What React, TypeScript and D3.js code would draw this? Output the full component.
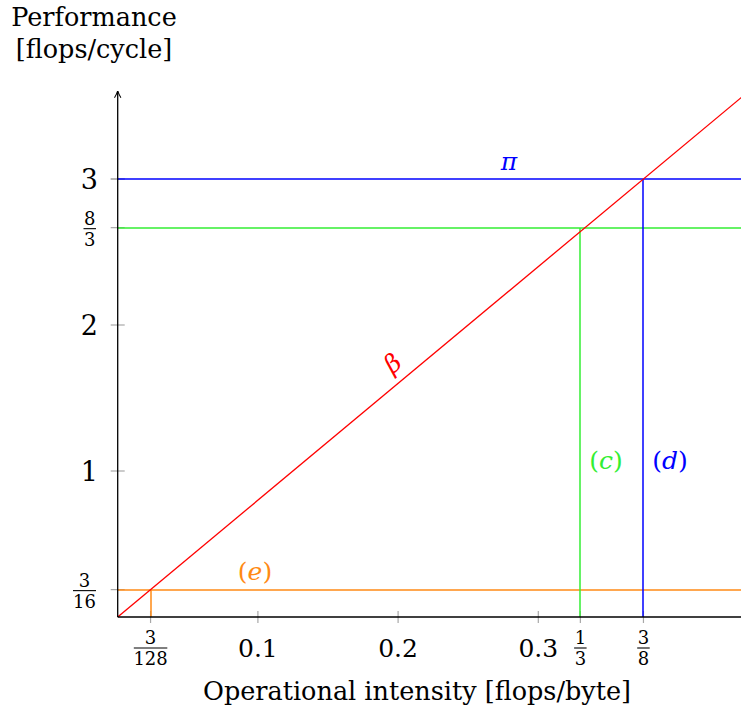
import { useEffect, useRef } from 'react';
import * as d3 from 'd3';

// roofline values
const xTickValues = [0.1, 0.2, 0.3];
const yTickValues = [1, 2, 3];
const ceilingNames = ['π', '(c)', '(e)'];
const ceilingValues = [3, 8 / 3, 3 / 16];
const ridgeNames = ['(d)', '(c)', '(e)'];
const ridgeValues = [3 / 8, 0.33, 3 / 128];
const ridgeLabels = [['3', '8'], ['1', '3'], ['3', '128']];
const ceilingLabels = [null, ['8', '3'], ['3', '16']];
const bandwidthSlope = 8;
const colors = ['#0000ff', '#33ee33', '#ff8a14'];

const FONT = "'DejaVu Serif', serif";

const App = () => {
  const svgRef = useRef<SVGSVGElement>(null);

  useEffect(() => {
    const svg = d3.select(svgRef.current);
    svg.selectAll('*').remove();
    const width = 741;
    const height = 710;

    const x = d3.scaleLinear().domain([0, 0.45]).range([117.7, 117.7 + 0.45 * 1402]);
    const y = d3.scaleLinear().domain([0, 3.6]).range([617, 617 - 3.6 * 146]);

    const defs = svg.append('defs');
    defs
      .append('marker')
      .attr('id', 'arr')
      .attr('viewBox', '0 0 10 10')
      .attr('refX', 9)
      .attr('refY', 5)
      .attr('markerWidth', 8)
      .attr('markerHeight', 8)
      .attr('markerUnits', 'userSpaceOnUse')
      .attr('orient', 'auto')
      .append('path')
      .attr('d', 'M1,1 Q6,4 10,5 Q6,6 1,9')
      .attr('fill', 'none')
      .attr('stroke', '#000')
      .attr('stroke-width', 1.3);

    // ticks (gray, crossing the axes)
    const xt = [...xTickValues, ...ridgeValues];
    svg
      .append('g')
      .selectAll('line')
      .data(xt)
      .join('line')
      .attr('x1', (d) => x(d))
      .attr('x2', (d) => x(d))
      .attr('y1', y(0) - 6)
      .attr('y2', y(0) + 6)
      .attr('stroke', '#a8a8a8')
      .attr('stroke-width', 1.2);
    const yt = [...yTickValues, ...ceilingValues];
    svg
      .append('g')
      .selectAll('line')
      .data(yt)
      .join('line')
      .attr('y1', (d) => y(d))
      .attr('y2', (d) => y(d))
      .attr('x1', x(0) - 7)
      .attr('x2', x(0) + 7)
      .attr('stroke', '#a8a8a8')
      .attr('stroke-width', 1.2);

    // ceilings
    ceilingValues.forEach((v, i) => {
      svg
        .append('line')
        .attr('x1', x(0))
        .attr('x2', x(0.45))
        .attr('y1', Math.round(y(v)))
        .attr('y2', Math.round(y(v)))
        .attr('stroke', colors[i])
        .attr('stroke-width', 1.5);
    });
    ridgeValues.forEach((v, i) => {
      svg
        .append('line')
        .attr('x1', Math.round(x(v)))
        .attr('x2', Math.round(x(v)))
        .attr('y1', y(0))
        .attr('y2', Math.round(y(ceilingValues[i])))
        .attr('stroke', colors[i])
        .attr('stroke-width', 1.5);
    });

    // bandwidth roof
    const line = d3
      .line<number>()
      .x((d) => x(d))
      .y((d) => y(bandwidthSlope * d));
    svg
      .append('path')
      .attr('d', line([0, 0.45]))
      .attr('stroke', '#ff0000')
      .attr('stroke-width', 1.3)
      .attr('fill', 'none');

    // axes
    svg
      .append('line')
      .attr('x1', x(0))
      .attr('x2', x(0))
      .attr('y1', y(0))
      .attr('y2', y(3.6))
      .attr('stroke', '#000')
      .attr('stroke-width', 1.3)
      .attr('marker-end', 'url(#arr)');
    svg
      .append('line')
      .attr('x1', x(0))
      .attr('x2', x(0.45))
      .attr('y1', y(0))
      .attr('y2', y(0))
      .attr('stroke', '#000')
      .attr('stroke-width', 1.3)
      .attr('marker-end', 'url(#arr)');

    const fraction = (g: any, cx: number, cy: number, num: string, den: string, color = '#000') => {
      const fs = 18;
      const w = Math.max(num.length, den.length) * 10.5 + 2;
      g.append('text')
        .attr('x', cx)
        .attr('y', cy - 4)
        .attr('text-anchor', 'middle')
        .attr('font-size', fs)
        .attr('fill', color)
        .text(num);
      g.append('line')
        .attr('x1', cx - w / 2)
        .attr('x2', cx + w / 2)
        .attr('y1', cy)
        .attr('y2', cy)
        .attr('stroke', color)
        .attr('stroke-width', 1.1);
      g.append('text')
        .attr('x', cx)
        .attr('y', cy + 17)
        .attr('text-anchor', 'middle')
        .attr('font-size', fs)
        .attr('fill', color)
        .text(den);
    };

    const labels = svg.append('g').attr('font-family', FONT);

    // x tick labels
    xTickValues.forEach((v) => {
      labels
        .append('text')
        .attr('x', x(v))
        .attr('y', 657)
        .attr('text-anchor', 'middle')
        .attr('font-size', 25)
        .text(d3.format('.1f')(v));
    });
    ridgeValues.forEach((v, i) => {
      fraction(labels, x(v), 648, ridgeLabels[i][0], ridgeLabels[i][1]);
    });

    // y tick labels
    yTickValues.forEach((v) => {
      labels
        .append('text')
        .attr('x', 98)
        .attr('y', y(v) + 10)
        .attr('text-anchor', 'end')
        .attr('font-size', 27)
        .text(String(v));
    });
    ceilingValues.forEach((v, i) => {
      const l = ceilingLabels[i];
      if (!l) return;
      const w = Math.max(l[0].length, l[1].length) * 10.5 + 2;
      fraction(labels, 96 - w / 2, y(v) + 1, l[0], l[1]);
    });

    // annotations
    const ann = [
      { t: ceilingNames[0], x: 509, y: 170, c: colors[0] },
      { t: ridgeNames[0], x: 670, y: 469, c: colors[0] },
      { t: ridgeNames[1], x: 606, y: 469, c: colors[1] },
      { t: ceilingNames[2], x: 255, y: 580, c: colors[2] },
    ];
    ann.forEach((a) => {
      const txt = labels
        .append('text')
        .attr('x', a.x)
        .attr('y', a.y)
        .attr('text-anchor', 'middle')
        .attr('font-size', 25)
        .attr('fill', a.c);
      const m = a.t.match(/^\((.)\)$/);
      if (m) {
        txt.append('tspan').text('(');
        txt.append('tspan').attr('font-style', 'italic').text(m[1]);
        txt.append('tspan').text(')');
      } else {
        txt.attr('font-style', 'italic').text(a.t);
      }
    });
    const angle = (Math.atan2(y(0) - y(bandwidthSlope * 0.1), x(0.1) - x(0)) * 180) / Math.PI;
    labels
      .append('text')
      .attr('transform', `translate(398,370) rotate(${-angle})`)
      .attr('text-anchor', 'middle')
      .attr('font-size', 25)
      .attr('font-style', 'italic')
      .attr('fill', '#ff0000')
      .text('β');

    // axis titles
    labels
      .append('text')
      .attr('x', 94)
      .attr('y', 26)
      .attr('text-anchor', 'middle')
      .attr('font-size', 25.5)
      .text('Performance');
    labels
      .append('text')
      .attr('x', 94)
      .attr('y', 58)
      .attr('text-anchor', 'middle')
      .attr('font-size', 25.5)
      .text('[flops/cycle]');
    labels
      .append('text')
      .attr('x', 417)
      .attr('y', 700)
      .attr('text-anchor', 'middle')
      .attr('font-size', 25.5)
      .text('Operational intensity [flops/byte]');

    svg.attr('width', width).attr('height', height);
  }, []);

  return (
    <svg
      ref={svgRef}
      width="741"
      height="710"
      style={{ position: 'absolute', left: 0, top: 0, background: '#fff' }}
    ></svg>
  );
};

export default App;
